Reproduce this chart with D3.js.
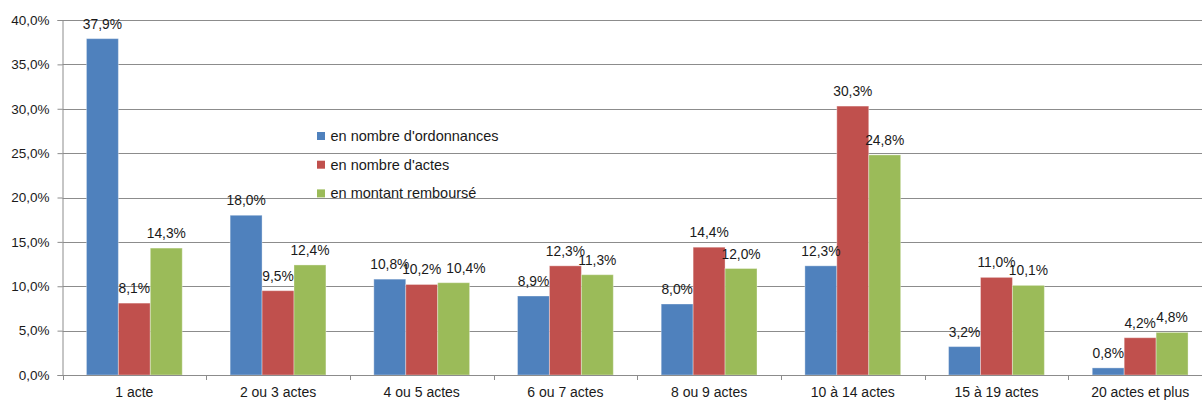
<!DOCTYPE html>
<html>
<head>
<meta charset="utf-8">
<script src="https://cdn.jsdelivr.net/npm/d3@7"></script>
<style>
  html, body { margin: 0; padding: 0; background: #fff; }
  svg { display: block; }
  text { font-family: "Liberation Sans", Arial, sans-serif; fill: #1a1a1a; }
</style>
</head>
<body>
<svg id="chart" width="1202" height="401"></svg>
<script>
const categories = ["1 acte", "2 ou 3 actes", "4 ou 5 actes", "6 ou 7 actes", "8 ou 9 actes", "10 à 14 actes", "15 à 19 actes", "20 actes et plus"];
const seriesNames = ["en nombre d'ordonnances", "en nombre d'actes", "en montant remboursé"];
const ordonnances = [37.9, 18.0, 10.8, 8.9, 8.0, 12.3, 3.2, 0.8];
const actes = [8.1, 9.5, 10.2, 12.3, 14.4, 30.3, 11.0, 4.2];
const montant = [14.3, 12.4, 10.4, 11.3, 12.0, 24.8, 10.1, 4.8];
const yTicks = [0, 5, 10, 15, 20, 25, 30, 35, 40];
const colors = ["#4F81BD", "#C0504D", "#9BBB59"];

const seriesValues = [ordonnances, actes, montant];
const fmt = v => d3.format(".1f")(v).replace(".", ",") + "%";

const svg = d3.select("#chart");
const mLeft = 62.5, mRight = 1212, mTop = 20, mBottom = 375;

const x0 = d3.scaleBand().domain(categories).range([mLeft, mRight]).paddingInner(0).paddingOuter(0);
const x1 = d3.scaleBand().domain(d3.range(3)).range([0, x0.bandwidth()]).paddingInner(0).paddingOuter(0.75);
const y = d3.scaleLinear().domain([0, 40]).range([mBottom, mTop]);

// gridlines
svg.append("g").selectAll("line").data(yTicks.filter(d => d > 0)).join("line")
  .attr("x1", mLeft).attr("x2", 1202)
  .attr("y1", d => Math.round(y(d)) + 0.5).attr("y2", d => Math.round(y(d)) + 0.5)
  .attr("stroke", "#8c8c8c").attr("stroke-width", 1);

// y axis
const yAxis = d3.axisLeft(y).tickValues(yTicks).tickFormat(fmt).tickSize(5).tickPadding(8);
const gy = svg.append("g").attr("transform", `translate(${mLeft},0)`).call(yAxis);
gy.select(".domain").attr("stroke", "#8c8c8c");
gy.selectAll(".tick line").attr("stroke", "#8c8c8c");
gy.selectAll(".tick text").attr("font-size", "13.5px").attr("fill", "#1a1a1a")
  .attr("font-family", "'Liberation Sans', Arial, sans-serif");

// bars
const groups = svg.append("g").selectAll("g").data(categories).join("g")
  .attr("transform", d => `translate(${x0(d)},0)`);
groups.selectAll("rect").data((c, i) => seriesValues.map((s, k) => ({k, v: s[i]}))).join("rect")
  .attr("x", d => x1(d.k)).attr("width", x1.bandwidth())
  .attr("y", d => y(d.v)).attr("height", d => y(0) - y(d.v))
  .attr("fill", d => colors[d.k])
  .attr("stroke", "#ffffff").attr("stroke-opacity", 0.35).attr("stroke-width", 1);

// data labels (nudge a label right when it sits at nearly the same height as its left neighbour)
groups.each(function(c, i) {
  const g = d3.select(this);
  let prev = null;
  seriesValues.forEach((s, k) => {
    const v = s[i];
    const t = g.append("text").attr("class", "lbl")
      .attr("x", x1(k) + x1.bandwidth() / 2)
      .attr("y", y(v) - 10)
      .attr("text-anchor", "middle")
      .attr("font-size", "13.8px")
      .text(fmt(v));
    let bb = t.node().getBBox();
    if (prev && Math.abs(bb.y - prev.y) < 4 && bb.x < prev.x + prev.width + 5) {
      const shift = prev.x + prev.width + 5 - bb.x;
      t.attr("x", x1(k) + x1.bandwidth() / 2 + shift);
      bb = t.node().getBBox();
    }
    prev = bb;
  });
});

// x axis line and ticks
svg.append("line").attr("x1", mLeft).attr("x2", 1202).attr("y1", mBottom + 0.5).attr("y2", mBottom + 0.5)
  .attr("stroke", "#8c8c8c");
svg.append("g").selectAll("line").data(categories).join("line")
  .attr("x1", d => Math.round(x0(d)) + 0.5).attr("x2", d => Math.round(x0(d)) + 0.5)
  .attr("y1", mBottom).attr("y2", mBottom + 5).attr("stroke", "#8c8c8c");
svg.append("g").selectAll("text").data(categories).join("text")
  .attr("x", d => x0(d) + x0.bandwidth() / 2)
  .attr("y", mBottom + 22)
  .attr("text-anchor", "middle")
  .attr("font-size", "14px")
  .text(d => d);

// legend
const legend = svg.append("g").attr("transform", "translate(317,136)");
const li = legend.selectAll("g").data(seriesNames).join("g")
  .attr("transform", (d, i) => `translate(0,${i * 28.7})`);
li.append("rect").attr("x", 0).attr("y", -4).attr("width", 8).attr("height", 8)
  .attr("fill", (d, i) => colors[i]);
li.append("text").attr("x", 13.5).attr("y", 0).attr("dy", "0.35em")
  .attr("font-size", "14.5px").text(d => d);
</script>
</body>
</html>
